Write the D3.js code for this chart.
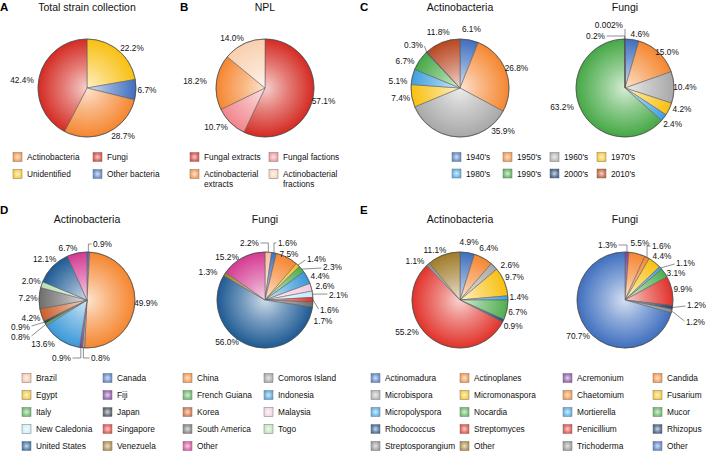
<!DOCTYPE html>
<html>
<head>
<script src="https://d3js.org/d3.v7.min.js"></script>
<style>
    body { margin: 0; background: #fff; }
    text { font-family: "Liberation Sans", Arial, Helvetica, sans-serif; fill: #111; }
</style>
</head>
<body>
<svg width="706" height="451"></svg>
<script>
// ---- data (percent, clockwise from 12 o'clock) ----
const strainCats = ["Unidentified", "Other bacteria", "Actinobacteria", "Fungi"];
const strainVals = [22.2, 6.7, 28.7, 42.4];
const strainLegend = ["Actinobacteria", "Fungi", "Unidentified", "Other bacteria"];

const nplCats = ["Fungal extracts", "Fungal factions", "Actinobacterial\nextracts", "Actinobacterial\nfractions"];
const nplVals = [57.1, 10.7, 18.2, 14.0];
const nplLegend = ["Fungal extracts", "Fungal factions", "Actinobacterial\nextracts", "Actinobacterial\nfractions"];

const decades = ["1940's", "1950's", "1960's", "1970's", "1980's", "1990's", "2000's", "2010's"];
const decadeActino = [6.1, 26.8, 35.9, 7.4, 5.1, 6.7, 0.3, 11.8];
const decadeFungi = [4.6, 15.0, 10.4, 4.2, 2.4, 63.2, 0.2, 0.002];

const countries = ["Brazil", "Canada", "China", "Comoros Island", "Egypt", "Fiji", "French Guiana", "Indonesia",
    "Italy", "Japan", "Korea", "Malaysia", "New Caledonia", "Singapore", "South America", "Togo",
    "United States", "Venezuela", "Other"];
const countryActinoCats = ["Canada", "China", "Comoros Island", "Fiji", "Indonesia", "Italy", "Japan", "Korea",
    "South America", "Togo", "United States", "Other"];
const countryActinoVals = [0.9, 49.9, 0.8, 0.9, 13.6, 0.8, 0.9, 4.2, 7.2, 2.0, 12.1, 6.7];
const countryFungiCats = ["Brazil", "Canada", "China", "Egypt", "French Guiana", "Indonesia", "Malaysia",
    "New Caledonia", "Singapore", "South America", "United States", "Venezuela", "Other"];
const countryFungiVals = [2.2, 1.6, 7.5, 1.4, 2.3, 4.4, 2.6, 2.1, 1.6, 1.7, 56.0, 1.3, 15.2];

const actinoGenera = ["Actinomadura", "Actinoplanes", "Microbispora", "Micromonaspora", "Micropolyspora",
    "Nocardia", "Rhodococcus", "Streptomyces", "Streptosporangium", "Other"];
const actinoGenusVals = [4.9, 6.4, 2.6, 9.7, 1.4, 6.7, 0.9, 55.2, 1.1, 11.1];
const fungiGenera = ["Acremonium", "Candida", "Chaetomium", "Fusarium", "Mortierella", "Mucor",
    "Penicillium", "Rhizopus", "Trichoderma", "Other"];
const fungiGenusVals = [1.3, 5.5, 1.6, 4.4, 1.1, 3.1, 9.9, 1.2, 1.2, 70.7];

// ---- colours ----
const strainColours = { "Actinobacteria": "#f5862f", "Fungi": "#d42a22", "Unidentified": "#f8c010", "Other bacteria": "#3f6fbf" };
const nplColours = { "Fungal extracts": "#d42a22", "Fungal factions": "#f0868c",
    "Actinobacterial\nextracts": "#f5862f", "Actinobacterial\nfractions": "#f9cfae" };
const decadeColours = { "1940's": "#3f6fbf", "1950's": "#f5862f", "1960's": "#a8a8a8", "1970's": "#f8c010",
    "1980's": "#3ea0e0", "1990's": "#45a845", "2000's": "#1b3f6e", "2010's": "#b8461f" };
const countryColours = { "Brazil": "#f8bf9c", "Canada": "#3f6fbf", "China": "#f5862f", "Comoros Island": "#9a9a9a",
    "Egypt": "#f3bf22", "Fiji": "#7b3f9e", "French Guiana": "#4fae4f", "Indonesia": "#3a98d8",
    "Italy": "#4fae4f", "Japan": "#333a48", "Korea": "#cc5e2a", "Malaysia": "#f2cbe0",
    "New Caledonia": "#c4ecf9", "Singapore": "#e1322a", "South America": "#6e6e6e", "Togo": "#b9e0b2",
    "United States": "#1d5a94", "Venezuela": "#a27a30", "Other": "#d43a92" };
const actinoGenusColours = { "Actinomadura": "#3f6fbf", "Actinoplanes": "#f5862f", "Microbispora": "#a8a8a8",
    "Micromonaspora": "#f8c010", "Micropolyspora": "#3ea0e0", "Nocardia": "#4fae4f", "Rhodococcus": "#1d4f86",
    "Streptomyces": "#e1322a", "Streptosporangium": "#8a8a8a", "Other": "#a07c2a" };
const fungiGenusColours = { "Acremonium": "#7b3f9e", "Candida": "#f5862f", "Chaetomium": "#f5862f",
    "Fusarium": "#f8c010", "Mortierella": "#3ea0e0", "Mucor": "#4fae4f", "Penicillium": "#e1322a",
    "Rhizopus": "#22436e", "Trichoderma": "#8a8a8a", "Other": "#3f6fbf" };

// label nudges for crowded slices (offset from pie centre)
const tweaksA = { 0: { dx: 45, dy: -40 }, 2: { dx: 36, dy: 48 }, 3: { dx: -65, dy: -8 } };
const tweaksB = { 1: { dx: -49, dy: 39 }, 2: { dx: -70, dy: -7 }, 3: { dx: -33, dy: -50 } };
const tweaksC1 = { 2: { dx: 43, dy: 43 }, 4: { dx: -62, dy: -7 }, 5: { dx: -55, dy: -27 },
    6: { dx: -37, dy: -43, anchor: "end", leader: "line" } };
const tweaksC2 = { 0: { dx: 15, dy: -54 }, 1: { dx: 42, dy: -36 }, 3: { dx: 57, dy: 21 }, 5: { dx: -63, dy: 19 },
    6: { dx: -20, dy: -52, anchor: "end", leader: "elbow" }, 7: { dx: -2, dy: -63, anchor: "end", leader: "vert" } };
const tweaksD1 = { 0: { dx: 6, dy: -56, anchor: "start", leader: "elbow" }, 2: { dx: 4, dy: 58, anchor: "start", leader: "elbow" },
    3: { dx: -16, dy: 58, anchor: "end", leader: "elbow" }, 4: { dx: -44, dy: 44 },
    5: { dx: -57, dy: 37, anchor: "end", leader: "line" }, 6: { dx: -57, dy: 27, anchor: "end", leader: "line" },
    11: { dx: -19, dy: -52 } };
const tweaksD2 = { 0: { dx: -6, dy: -57, anchor: "end", leader: "elbow" }, 1: { dx: 13, dy: -57, anchor: "start", leader: "elbow" },
    2: { dx: 24, dy: -46 }, 3: { dx: 42, dy: -41, anchor: "start", leader: "line" },
    4: { dx: 58, dy: -33, anchor: "start", leader: "line" }, 5: { dx: 55, dy: -24 }, 6: { dx: 60, dy: -14 },
    7: { dx: 64, dy: -5, anchor: "start", leader: "line" }, 8: { dx: 55, dy: 10, anchor: "start", leader: "line" },
    9: { dx: 58, dy: 21 }, 10: { dx: -38, dy: 42 }, 11: { dx: -57, dy: -28 }, 12: { dx: -38, dy: -43 } };
const tweaksE1 = { 2: { dx: 50, dy: -35 }, 7: { dx: -53, dy: 32 }, 8: { dx: -45, dy: -39 }, 9: { dx: -25, dy: -50 } };
const tweaksE2 = { 0: { dx: -8, dy: -55, anchor: "end", leader: "elbow" }, 2: { dx: 27, dy: -54, anchor: "start", leader: "elbow" },
    3: { dx: 37, dy: -44 }, 4: { dx: 51, dy: -37, anchor: "start", leader: "line" }, 5: { dx: 51, dy: -27 },
    7: { dx: 62, dy: 5, anchor: "start", leader: "line" }, 8: { dx: 61, dy: 22, anchor: "start", leader: "line" } };

const svg = d3.select("svg");
const defs = svg.append("defs");
const light = (c, t) => d3.interpolateRgb(c, "#ffffff")(t);
const fmt = v => (v < 0.1 ? String(v) : v.toFixed(1)) + "%";

let gradCount = 0;
function radial(colour, attrs) {
    const id = "grad" + (gradCount++);
    const g = defs.append("radialGradient").attr("id", id);
    Object.entries(attrs).forEach(([k, v]) => g.attr(k, v));
    g.append("stop").attr("offset", "0%").attr("stop-color", light(colour, 0.78));
    g.append("stop").attr("offset", "45%").attr("stop-color", light(colour, 0.4));
    g.append("stop").attr("offset", "100%").attr("stop-color", colour);
    return "url(#" + id + ")";
}

function drawPie(cx, cy, r, cats, vals, colours, tweaks) {
    const g = svg.append("g").attr("transform", `translate(${cx},${cy})`);
    const arcs = d3.pie().sort(null).value(d => d)(vals);
    const arc = d3.arc().innerRadius(0).outerRadius(r);

    g.selectAll("path.slice")
        .data(arcs)
        .enter()
        .append("path")
        .attr("class", "slice")
        .attr("d", arc)
        .attr("fill", (d, i) => radial(colours[cats[i]],
            { gradientUnits: "userSpaceOnUse", cx: 0, cy: 0, r: r }))
        .attr("stroke", "#555")
        .attr("stroke-width", 0.5)
        .attr("stroke-linejoin", "round");

    g.append("circle").attr("r", r).attr("fill", "none").attr("stroke", "#444").attr("stroke-width", 0.6);

    arcs.forEach((d, i) => {
        const a = (d.startAngle + d.endAngle) / 2;
        const t = tweaks[i] || {};
        const lx = t.dx !== undefined ? t.dx : (r + 11) * Math.sin(a);
        const ly = t.dy !== undefined ? t.dy : -(r + 11) * Math.cos(a);
        const anchor = t.anchor || "middle";
        if (t.leader) {
            const ex = r * Math.sin(a), ey = -r * Math.cos(a);
            const nx = anchor === "end" ? lx + 1.5 : lx - 1.5;
            let pts;
            if (t.leader === "elbow") pts = [[ex, ey], [ex, ly], [nx, ly]];
            else if (t.leader === "vert") pts = [[ex, ey], [ex, ly + 4]];
            else pts = [[ex, ey], [nx, ly + (ly > ey ? -1 : 1)]];
            g.append("path")
                .attr("d", d3.line()(pts))
                .attr("fill", "none")
                .attr("stroke", "#444")
                .attr("stroke-width", 0.6);
        }
        g.append("text")
            .attr("x", lx)
            .attr("y", ly)
            .attr("dy", "0.35em")
            .attr("text-anchor", anchor)
            .attr("font-size", 8.3)
            .text(fmt(vals[i]));
    });
}

function drawLegend(items, colours, xs, y0, step) {
    items.forEach((name, i) => {
        const x = xs[i % xs.length];
        const y = y0 + Math.floor(i / xs.length) * step;
        svg.append("rect")
            .attr("x", x).attr("y", y - 4.5)
            .attr("width", 9).attr("height", 9)
            .attr("fill", radial(colours[name], { cx: "50%", cy: "50%", r: "70%" }))
            .attr("stroke", "#777").attr("stroke-width", 0.5);
        const t = svg.append("text")
            .attr("x", x + 14).attr("y", y + 3)
            .attr("font-size", 8.3);
        name.split("\n").forEach((line, k) => {
            t.append("tspan").attr("x", x + 14).attr("dy", k ? 10 : 0).text(line);
        });
    });
}

function heading(txt, x, y) {
    svg.append("text").attr("x", x).attr("y", y).attr("text-anchor", "middle")
        .attr("font-size", 10.5).text(txt);
}
function letter(txt, x, y) {
    svg.append("text").attr("x", x).attr("y", y).attr("font-size", 11.5)
        .attr("font-weight", "bold").style("fill", "#000").text(txt);
}

// A
letter("A", 0, 11);
heading("Total strain collection", 87, 11);
drawPie(87, 88, 49, strainCats, strainVals, strainColours, tweaksA);
drawLegend(strainLegend, strainColours, [13, 93], 157, 17);

// B
letter("B", 180, 11);
heading("NPL", 265, 11);
drawPie(265, 88, 49, nplCats, nplVals, nplColours, tweaksB);
drawLegend(nplLegend, nplColours, [190, 269], 157, 17);

// C
letter("C", 360, 11);
heading("Actinobacteria", 460, 11);
heading("Fungi", 625, 11);
drawPie(460, 88, 49, decades, decadeActino, decadeColours, tweaksC1);
drawPie(625, 88, 49, decades, decadeFungi, decadeColours, tweaksC2);
drawLegend(decades, decadeColours, [452, 503, 550, 597], 157, 16.5);

// D
letter("D", 0, 214);
heading("Actinobacteria", 87, 223);
heading("Fungi", 265, 223);
drawPie(87, 300, 48, countryActinoCats, countryActinoVals, countryColours, tweaksD1);
drawPie(265, 300, 48, countryFungiCats, countryFungiVals, countryColours, tweaksD2);
drawLegend(countries, countryColours, [22, 103, 183, 264], 378, 17);

// E
letter("E", 360, 214);
heading("Actinobacteria", 460, 223);
heading("Fungi", 625, 223);
drawPie(460, 300, 48, actinoGenera, actinoGenusVals, actinoGenusColours, tweaksE1);
drawPie(625, 300, 48, fungiGenera, fungiGenusVals, fungiGenusColours, tweaksE2);
drawLegend(actinoGenera, actinoGenusColours, [371, 460], 378, 17);
drawLegend(fungiGenera, fungiGenusColours, [563, 653], 378, 17);
</script>
</body>
</html>
